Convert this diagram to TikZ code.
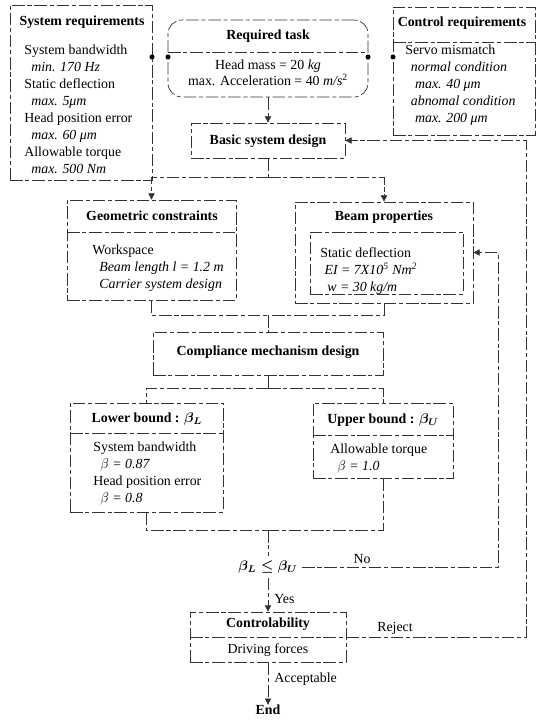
\documentclass[tikz,border=0pt]{standalone}
\usepackage{amsmath}
\usepackage{fontspec}
\setmainfont{Liberation Serif}
\usetikzlibrary{fit,arrows.meta}

\begin{document}
\begin{tikzpicture}[x=0.72pt, y=-0.72pt, line width=0.5pt,
  box/.style={draw=black!80, dash pattern=on 9pt off 2pt on 3pt off 2pt, inner sep=0pt},
  title/.style={font=\bfseries\boldmath, inner sep=0pt},
  body/.style={font=\fontsize{10}{12.2}\selectfont, align=left, anchor=north west, inner sep=0pt},
  link/.style={draw=black!80, dash pattern=on 9pt off 2pt on 3pt off 2pt},
  flow/.style={link, -{Triangle[length=4.5pt, width=4.5pt]}},
  dot/.style={circle, fill, inner sep=0pt, minimum size=3.6pt}]
  \useasboundingbox (0,0) rectangle (538,720);

  % top row: requirements and task
  \node[box, fit={(10,5) (152,180)}] (sysReq) {};
  \node[title] (sysReqTitle) at (82,22) {System requirements};
  \node[body] (sysReqBody) at (24,45) {System bandwidth\\
    \hspace*{5pt}\textit{min. 170 Hz}\\
    Static deflection\\
    \hspace*{5pt}\textit{max. 5μm}\\
    Head position error\\
    \hspace*{5pt}\textit{max. 60 μm}\\
    Allowable torque\\
    \hspace*{5pt}\textit{max. 500 Nm}};

  \node[box, rounded corners=10pt, fit={(168,20) (368,97)}] (task) {};
  \draw[link] (168,52) -- (368,52);
  \node[title] (taskTitle) at (268,36) {Required task};
  \node[align=center, inner sep=0pt, font=\fontsize{10}{11.6}\selectfont] (taskBody) at (268,73)
    {Head mass = 20 \textit{kg}\\ max. Acceleration = 40 \textit{m/s}\textsuperscript{2}};

  \node[box, fit={(393,7) (535,135)}] (ctrlReq) {};
  \draw[link] (393,42) -- (535,42);
  \node[title] (ctrlReqTitle) at (462,23) {Control requirements};
  \node[body] (ctrlReqBody) at (405,45) {Servo mismatch\\
    \hspace*{4pt}\textit{normal condition}\\
    \hspace*{7pt}\textit{max. 40 μm}\\
    \hspace*{4pt}\textit{abnomal condition}\\
    \hspace*{7pt}\textit{max. 200 μm}};

  \node[dot] (dotSysReq) at (152,57) {};
  \node[dot] (dotTaskL) at (168,57) {};
  \node[dot] (dotTaskR) at (368,57) {};
  \node[dot] (dotCtrlReq) at (393,57) {};

  \node[box, fit={(191,123) (345,158)}] (basic) {};
  \node[title] (basicTitle) at (268,141) {Basic system design};

  % constraints and beam
  \node[box, fit={(67,200) (236,300)}] (geo) {};
  \draw[link] (67,232) -- (236,232);
  \node[title] (geoTitle) at (152,216) {Geometric constraints};
  \node[body] (geoBody) at (92,245) {Workspace\\
    \hspace*{5pt}\textit{Beam length l = 1.2 m}\\
    \hspace*{5pt}\textit{Carrier system design}};

  \node[box, fit={(295,202) (473,303)}] (beam) {};
  \node[box, fit={(310,232) (463,294)}] (beamInner) {};
  \node[title] (beamTitle) at (384,217) {Beam properties};
  \node[body] (beamBody) at (320,247) {Static deflection\\
    \hspace*{3pt}\textit{EI = 7X10\textsuperscript{5} Nm\textsuperscript{2}}\\
    \hspace*{5pt}\textit{w = 30 kg/m}};

  \node[box, fit={(153,332) (383,375)}] (comp) {};
  \node[title] (compTitle) at (268,352) {Compliance mechanism design};

  % bounds
  \node[box, fit={(70,403) (223,512)}] (lower) {};
  \draw[link] (70,433) -- (223,433);
  \node[title] (lowerTitle) at (147,419) {Lower bound : $\beta_L$};
  \node[body] (lowerBody) at (93,442) {System bandwidth\\
    \hspace*{5pt}\textit{$\beta$ = 0.87}\\
    Head position error\\
    \hspace*{5pt}\textit{$\beta$ = 0.8}};

  \node[box, fit={(313,403) (453,478)}] (upper) {};
  \draw[link] (313,435) -- (453,435);
  \node[title] (upperTitle) at (383,420) {Upper bound : $\beta_U$};
  \node[body] (upperBody) at (330,444) {Allowable torque\\
    \hspace*{5pt}\textit{$\beta$ = 1.0}};

  \node[font=\boldmath, inner sep=3pt] (cond) at (268,567) {$\beta_L \leq \beta_U$};

  % controlability and end
  \node[box, fit={(190,612) (346,662)}] (ctl) {};
  \draw[link] (190,637) -- (346,637);
  \node[title] (ctlTitle) at (268,624) {Controlability};
  \node[inner sep=0pt] (ctlBody) at (268,650) {Driving forces};
  \node[title] (endNode) at (268,710) {End};

  % connectors
  \coordinate (splitA) at (268,177);
  \coordinate (joinA) at (268,315);
  \coordinate (splitB) at (268,388);
  \coordinate (joinB) at (268,530);
  \coordinate (noTurn) at (498,567);
  \coordinate (rejTurn) at (526,637);

  \draw[flow] (task.south) -- (basic.north);
  \draw[link] (basic.south) -- (splitA);
  \draw[flow] (splitA) -| (geo.north);
  \draw[flow] (splitA) -| (beam.north);
  \draw[link] (geo.south) |- (joinA);
  \draw[link] (beam.south) |- (joinA);
  \draw[link] (joinA) -- (comp.north);
  \draw[link] (comp.south) -- (splitB);
  \draw[link] (splitB) -| (lower.north);
  \draw[link] (splitB) -| (upper.north);
  \draw[link] (lower.south) |- (joinB);
  \draw[link] (upper.south) |- (joinB);
  \draw[link] (joinB) -- (cond.north);
  \draw[flow] (cond.south) -- (ctl.north);
  \draw[flow] (cond.east) -- (noTurn) |- (beam.east);
  \draw[flow] (ctl.east) -- (rejTurn) |- (basic.east);
  \draw[flow] (ctl.south) -- (endNode.north);

  \node[anchor=west, inner sep=0pt] (yesLbl) at (274,599) {Yes};
  \node[inner sep=0pt] (noLbl) at (362,559) {No};
  \node[inner sep=0pt] (rejLbl) at (395,628) {Reject};
  \node[anchor=west, inner sep=0pt] (accLbl) at (274,679) {Acceptable};
\end{tikzpicture}
\end{document}
